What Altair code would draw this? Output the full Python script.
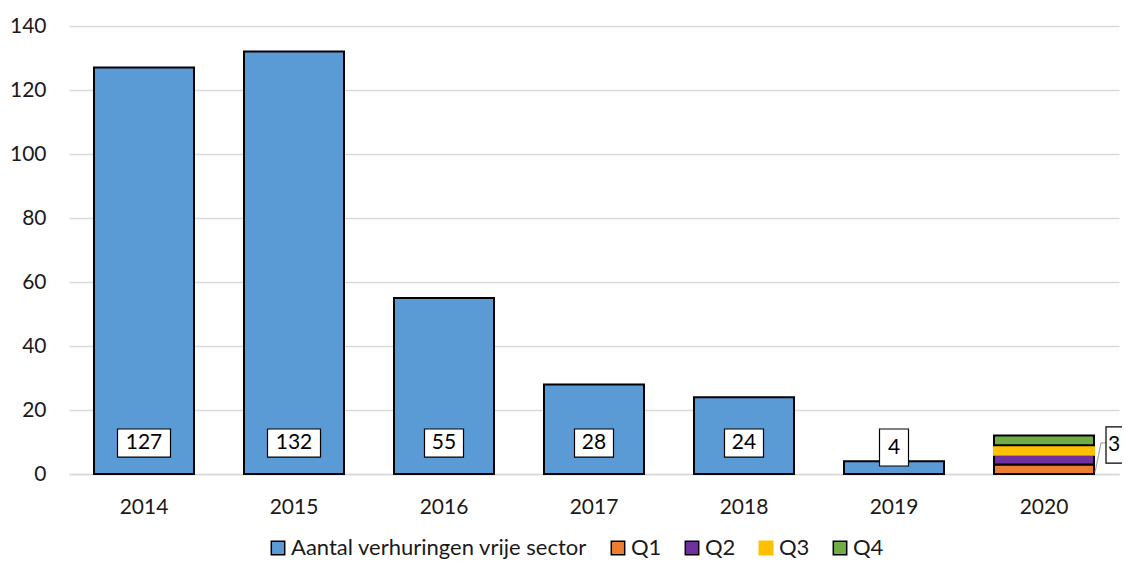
import altair as alt
import pandas as pd

years = ["2014", "2015", "2016", "2017", "2018", "2019", "2020"]
annual_years = ["2014", "2015", "2016", "2017", "2018", "2019"]
annual_values = [127, 132, 55, 28, 24, 4]
quarters = ["Q1", "Q2", "Q3", "Q4"]
q2020_values = [3, 3, 3, 3]
callout_year = "2020"
callout_label = "3"

series_names = ["Aantal verhuringen vrije sector", "Q1", "Q2", "Q3", "Q4"]
series_fill = ["#5B9BD5", "#ED7D31", "#7030A0", "#FFC000", "#70AD47"]
series_stroke = ["black", "black", "black", "#FFC000", "black"]

FONT = "Lato"
FS = 21

rows = [dict(year=y, series=series_names[0], value=v, order=0)
        for y, v in zip(annual_years, annual_values)]
rows += [dict(year="2020", series=q, value=v, order=i + 1)
         for i, (q, v) in enumerate(zip(quarters, q2020_values))]
df = pd.DataFrame(rows)

labels = pd.DataFrame({"year": annual_years, "value": annual_values})
labels["text"] = labels["value"].astype(str)
labels["digits"] = labels["text"].str.len()

callout = pd.DataFrame({"year": [callout_year], "text": [callout_label]})

xscale = alt.Scale(domain=years, paddingInner=1 / 3, paddingOuter=1 / 6)
X = alt.X("year:N", scale=xscale, sort=years,
          axis=alt.Axis(title=None, labelAngle=0, ticks=False, tickSize=0,
                        domain=True, domainColor="#D9D9D9", domainWidth=1.5,
                        labelPadding=22, labelFontSize=FS, labelFont=FONT,
                        labelColor="#1a1a1a"))

leg = alt.Legend(title=None, orient="none", legendX=198, legendY=511,
                 direction="horizontal", symbolType="square", symbolSize=180,
                 symbolStrokeWidth=1.5, labelFontSize=22, labelFont=FONT,
                 labelColor="#1a1a1a", columnPadding=19, labelOffset=2,
                 labelLimit=1000, padding=0)

bars = alt.Chart(df).mark_bar(strokeWidth=2).encode(
    x=X,
    y=alt.Y("sum(value):Q", stack="zero",
            scale=alt.Scale(domain=[0, 140], nice=False),
            axis=alt.Axis(title=None, values=list(range(0, 141, 20)),
                          domain=False, ticks=False, tickSize=0,
                          gridColor="#D9D9D9", gridWidth=1.5,
                          labelPadding=23, labelFontSize=FS, labelFont=FONT,
                          labelColor="#1a1a1a")),
    fill=alt.Fill("series:N", scale=alt.Scale(domain=series_names, range=series_fill),
                  sort=series_names, legend=leg),
    stroke=alt.Stroke("series:N", scale=alt.Scale(domain=series_names, range=series_stroke),
                      sort=series_names, legend=leg),
    order=alt.Order("order:Q"),
)

layers = [bars]
box_style = {3: (53, 5.3, 9.7), 2: (39, 5.3, 9.7), 1: (29, 2.5, 8.1)}
for d, (w, lo, ty) in box_style.items():
    sub = alt.Chart(labels).transform_filter(alt.datum.digits == d)
    layers.append(sub.mark_bar(width=w, fill="white", stroke="black", strokeWidth=1.2).encode(
        x=X, y=alt.datum(lo), y2=alt.datum(14.06)))
    layers.append(sub.mark_text(fontSize=FS, font=FONT, color="black", baseline="middle").encode(
        x=X, y=alt.datum(ty), text="text:N"))

cbase = alt.Chart(callout)
layers.append(cbase.mark_rule(color="#A6A6A6", strokeWidth=1.2, xOffset=57, x2Offset=62).encode(
    x=X, x2="year:N", y=alt.datum(9.7)))
layers.append(cbase.mark_rule(color="#A6A6A6", strokeWidth=1.2, xOffset=57, x2Offset=51).encode(
    x=X, x2="year:N", y=alt.datum(9.7), y2=alt.datum(0.5)))
layers.append(cbase.mark_bar(width=30, xOffset=77, fill="white", stroke="black", strokeWidth=1.2).encode(
    x=X, y=alt.datum(3.4), y2=alt.datum(14.7)))
layers.append(cbase.mark_text(fontSize=FS, font=FONT, color="black", baseline="middle", dx=70).encode(
    x=X, y=alt.datum(9.06), text="text:N"))

chart = alt.layer(*layers).properties(
    width=1050, height=448,
    autosize=alt.AutoSizeParams(type="none"),
    padding={"left": 61, "top": 18, "right": 3, "bottom": 88},
).configure_view(stroke=None)

chart.save("out.html", embed_options={"renderer": "svg", "actions": False})
